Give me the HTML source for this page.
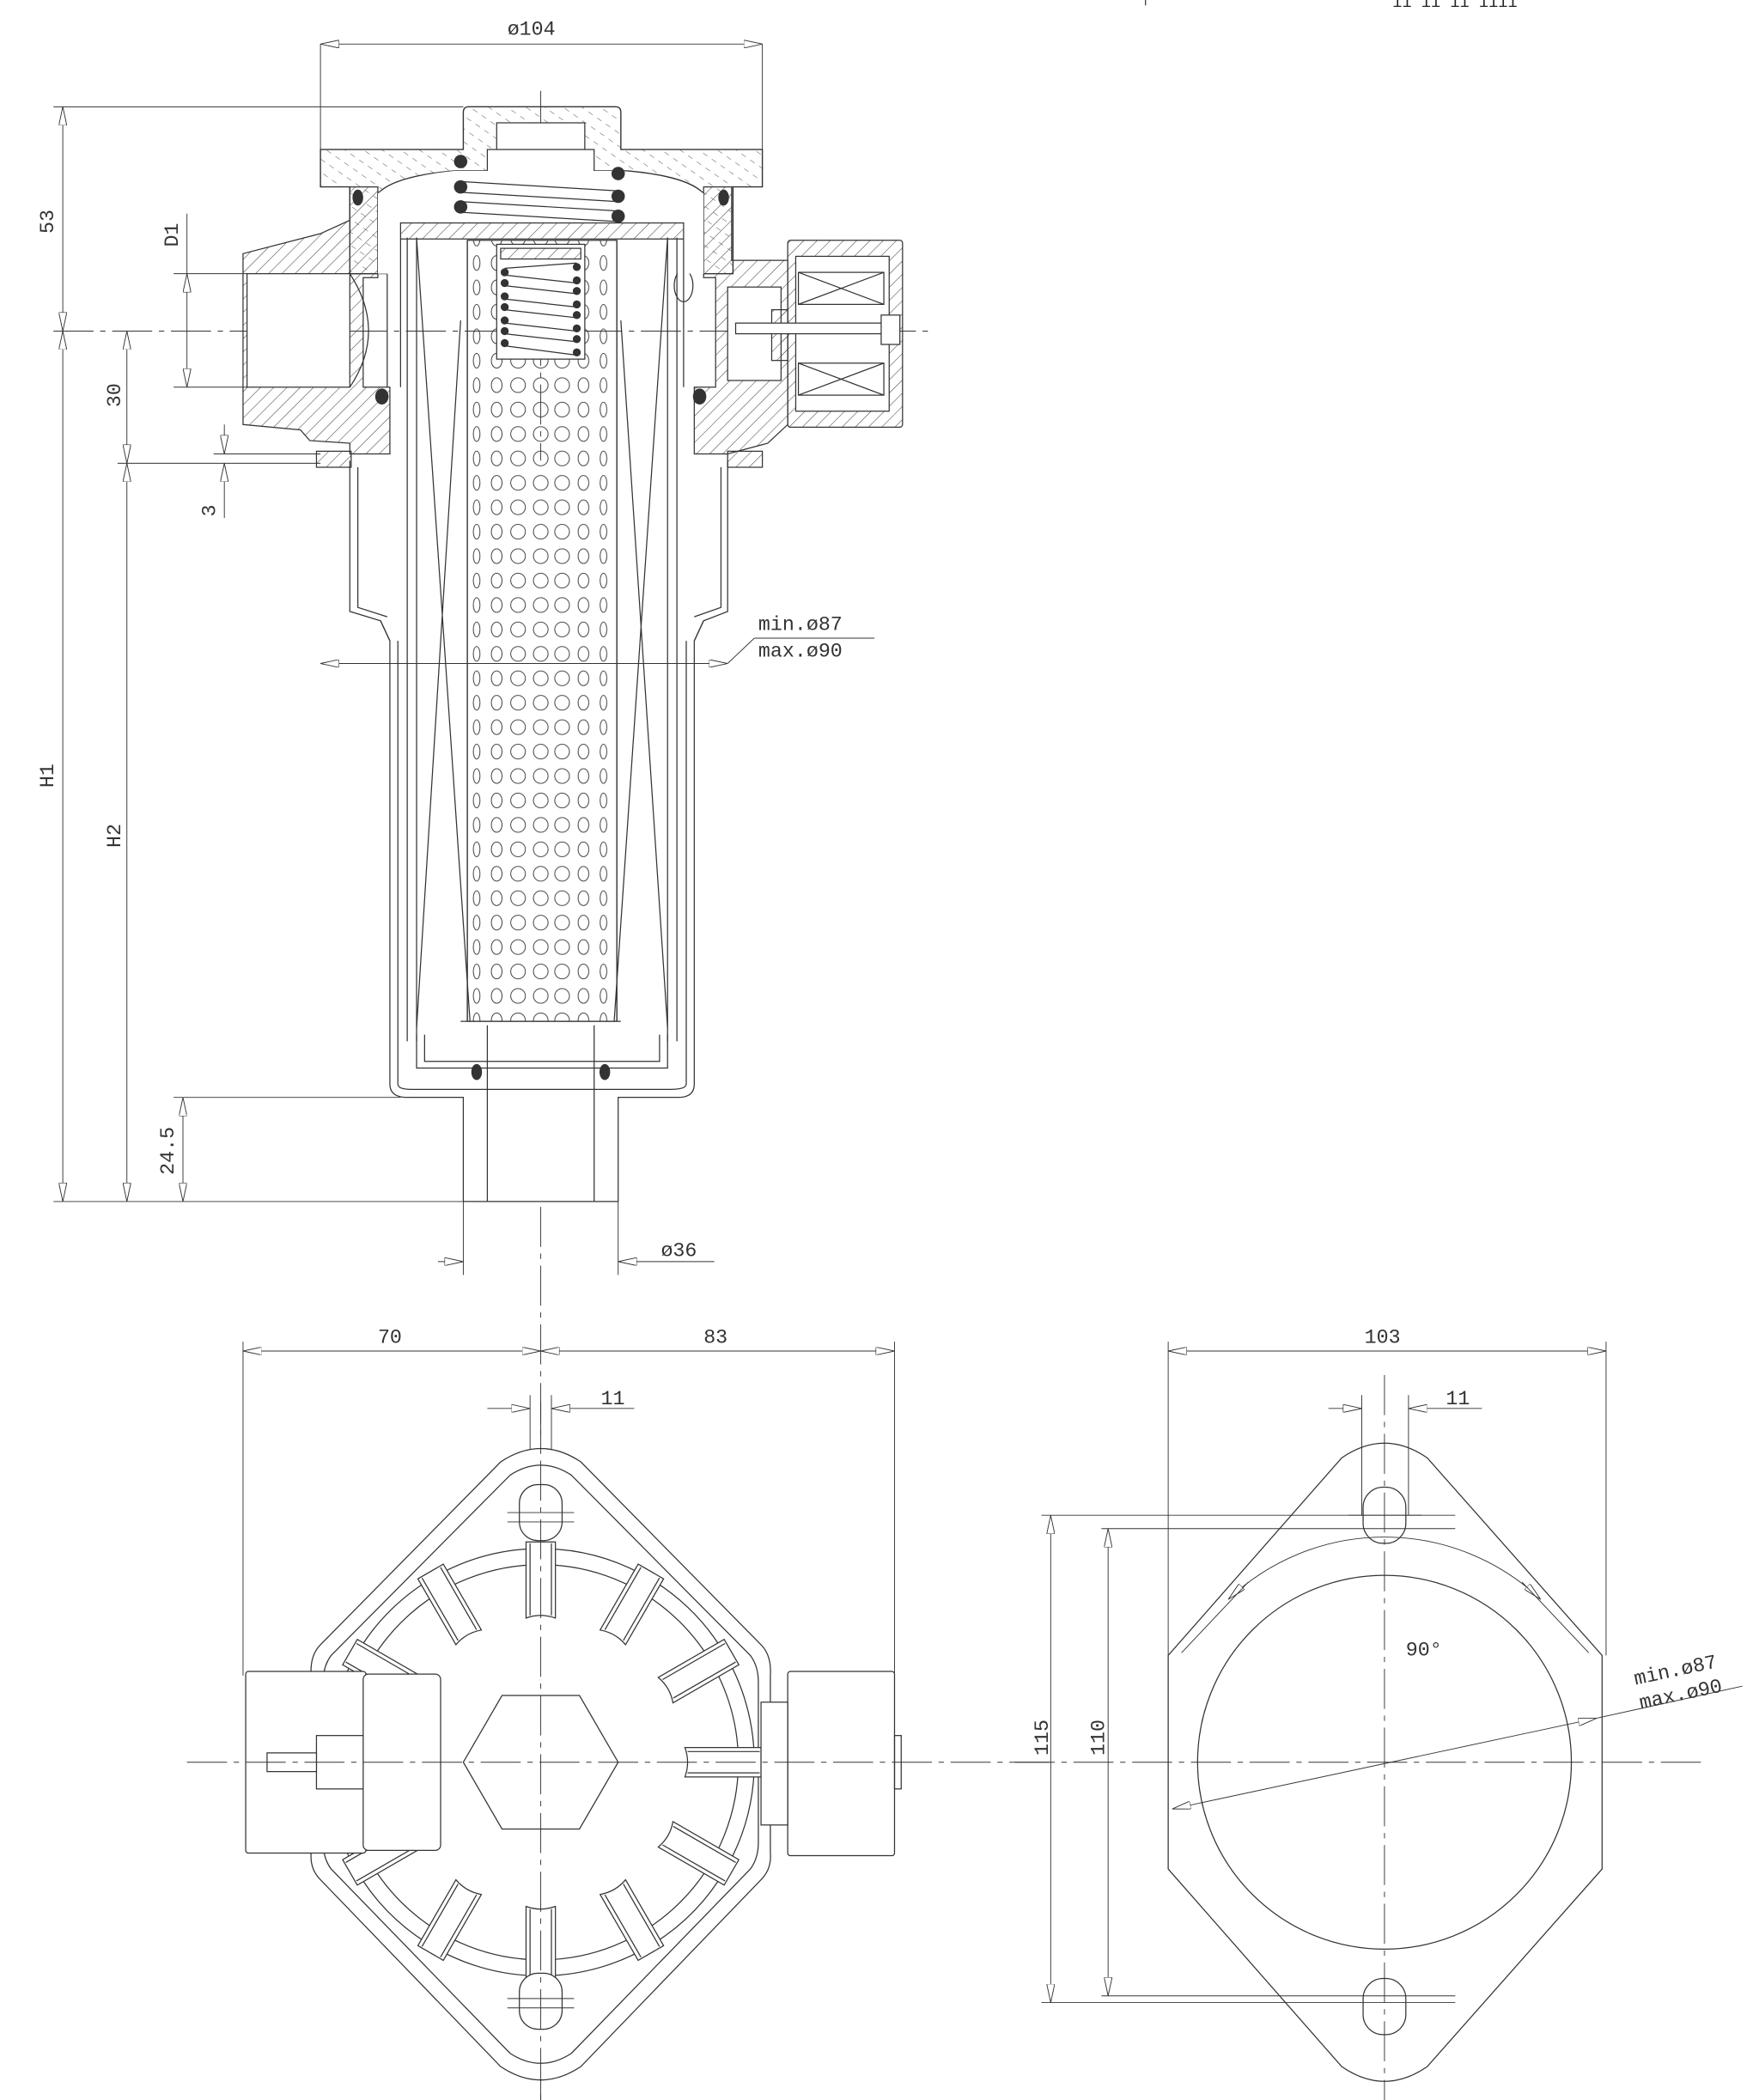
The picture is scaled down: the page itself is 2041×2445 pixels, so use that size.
<!DOCTYPE html>
<html><head><meta charset="utf-8"><style>html,body{margin:0;padding:0;background:#fff}svg{display:block}</style></head><body>
<svg width="2041" height="2445" viewBox="0 0 1313 1573" xmlns="http://www.w3.org/2000/svg" font-family="Liberation Mono, monospace" font-size="15" fill="none" stroke="#333" stroke-width="0.8">
<defs>
<pattern id="h" width="7" height="7" patternUnits="userSpaceOnUse" patternTransform="rotate(45)"><line x1="0" y1="0" x2="0" y2="7" stroke="#444" stroke-width="0.7"/></pattern>
<pattern id="hd" width="8" height="8" patternUnits="userSpaceOnUse" patternTransform="rotate(-55)"><line x1="0" y1="1" x2="0" y2="5" stroke="#444" stroke-width="0.6"/></pattern>
<pattern id="perf" x="350" y="188" width="112" height="18.3" patternUnits="userSpaceOnUse">
<g fill="none" stroke="#333" stroke-width="0.6">
<ellipse cx="7" cy="9" rx="2.5" ry="5.5"/><ellipse cx="22" cy="9" rx="4" ry="5.5"/><ellipse cx="38" cy="9" rx="5.5" ry="5.5"/><ellipse cx="55" cy="9" rx="5.5" ry="5.5"/><ellipse cx="71" cy="9" rx="5.5" ry="5.5"/><ellipse cx="87" cy="9" rx="4" ry="5.5"/><ellipse cx="102" cy="9" rx="2.5" ry="5.5"/></g></pattern>
<marker id="ar" viewBox="0 0 14 6" refX="14" refY="3" markerWidth="14" markerHeight="6" orient="auto-start-reverse" markerUnits="userSpaceOnUse"><path d="M0,0 L14,3 L0,6 Z" fill="#fff" stroke="#333" stroke-width="0.6"/></marker>
<g id="slot"><path d="M394,1155 L416,1155 L416,1212 Q405,1208 394,1212 Z" fill="#fff"/><line x1="397" y1="1156" x2="397" y2="1210"/><line x1="413" y1="1156" x2="413" y2="1210"/></g>
</defs>

<line x1="858" y1="0" x2="858" y2="4"/>
<text x="1043" y="5" fill="#222" stroke="none" font-size="12">ıı ıı ıı ıııı</text>

<line x1="405" y1="68" x2="405" y2="1573" stroke-dasharray="30,5,4,5" stroke-width="0.6"/>
<line x1="40" y1="248" x2="700" y2="248" stroke-dasharray="30,5,4,5" stroke-width="0.6"/>

<path d="M262,345 L262,458 L285,465 L292,480 L292,812 Q292,822 305,822 L347,822 L347,900 L463,900 L463,822 L508,822 Q520,822 520,812 L520,480 L527,465 L545,458 L545,345" fill="#fff"/>
<path d="M268,350 L268,455 L290,462 M298,480 L298,812 Q298,816 308,816 L502,816 Q514,816 514,812 L514,480 M540,350 L540,455 L520,462"/>
<path d="M365,900 L365,768 M445,900 L445,768"/>
<line x1="285" y1="465" x2="292" y2="480"/><line x1="527" y1="465" x2="520" y2="480"/>

<path d="M182,190 L240,175 L262,165 L262,140 L283,140 L283,208 L272,208 L272,290 L292,290 L292,340 L262,340 L262,332 L232,330 L225,322 L182,318 Z" fill="url(#h)"/>
<rect x="185" y="205" width="77" height="85" fill="#fff"/>
<path d="M262,205 L290,205 L290,290 M262,205 Q290,248 262,290"/>
<rect x="237" y="338" width="26" height="12" fill="url(#h)"/>
<path d="M527,140 L548,140 L548,195 L590,195 L590,318 L575,332 L545,340 L520,340 L520,290 L536,290 L536,208 L527,208 Z" fill="url(#h)"/>
<rect x="545" y="215" width="40" height="70" fill="#fff"/>
<rect x="545" y="338" width="26" height="12" fill="url(#h)"/>
<rect x="590" y="180" width="86" height="140" rx="2" fill="url(#h)"/>
<rect x="596" y="192" width="70" height="116" fill="#fff"/>
<rect x="598" y="204" width="64" height="24"/><path d="M598,204 L662,228 M598,228 L662,204"/>
<rect x="598" y="272" width="64" height="24"/><path d="M598,272 L662,296 M598,296 L662,272"/>
<rect x="578" y="232" width="12" height="38" fill="url(#h)"/>
<rect x="551" y="242" width="113" height="8" fill="#fff"/>
<rect x="660" y="236" width="14" height="22" fill="#fff"/>
<ellipse cx="512" cy="214" rx="7" ry="12" fill="#fff"/>

<path d="M240,112 L347,112 L347,84 Q347,80 351,80 L461,80 Q465,80 465,84 L465,112 L571,112 L571,140 L549,140 L549,205 L527,205 L527,145 Q515,132 470,128 L340,128 Q295,132 283,145 L283,205 L262,205 L262,140 L240,140 Z" fill="url(#hd)" stroke-width="0.9"/>
<rect x="372" y="92" width="66" height="20" fill="#fff"/>
<rect x="365" y="112" width="80" height="28" fill="#fff"/>
<path d="M283,145 Q300,132 340,128 L465,128 Q510,132 527,145 L527,205 L283,205 Z" fill="#fff" stroke="none"/>
<g fill="#333" stroke="none"><circle cx="345" cy="121" r="5"/><circle cx="463" cy="130" r="5"/><circle cx="345" cy="140" r="5"/><circle cx="463" cy="147" r="5"/><circle cx="345" cy="155" r="5"/><circle cx="463" cy="162" r="5"/>
<ellipse cx="268" cy="148" rx="4" ry="6"/><ellipse cx="542" cy="148" rx="4" ry="6"/><ellipse cx="286" cy="297" rx="5" ry="6"/><ellipse cx="524" cy="297" rx="5" ry="6"/><ellipse cx="357" cy="803" rx="4" ry="6"/><ellipse cx="453" cy="803" rx="4" ry="6"/></g>
<path d="M345,136 L463,143 M345,144 L463,151 M345,151 L463,158 M345,159 L463,166"/>

<rect x="300" y="167" width="212" height="12" fill="url(#h)"/>
<path d="M305,178 L305,780 M312,178 L312,780 M500,178 L500,780 M507,178 L507,780"/>
<path d="M300,179 L300,290 M512,179 L512,290"/>
<path d="M312,178 L352,765 M345,240 L312,770 M500,178 L460,765 M465,240 L500,770"/>
<path d="M312,775 L312,800 L500,800 L500,775 M318,775 L318,795 L494,795 L494,775"/>
<rect x="350" y="180" width="112" height="585" fill="url(#perf)"/>
<path d="M350,180 L350,765 M462,180 L462,765 M345,765 L465,765"/>
<rect x="372" y="183" width="66" height="86" fill="#fff"/>
<rect x="375" y="186" width="60" height="8" fill="url(#h)"/>
<g fill="#333" stroke="none"><circle cx="378" cy="204" r="3"/><circle cx="378" cy="212" r="3"/><circle cx="378" cy="222" r="3"/><circle cx="378" cy="230" r="3"/><circle cx="378" cy="240" r="3"/><circle cx="378" cy="248" r="3"/><circle cx="378" cy="257" r="3"/><circle cx="432" cy="200" r="3"/><circle cx="432" cy="210" r="3"/><circle cx="432" cy="218" r="3"/><circle cx="432" cy="228" r="3"/><circle cx="432" cy="236" r="3"/><circle cx="432" cy="246" r="3"/><circle cx="432" cy="254" r="3"/><circle cx="432" cy="264" r="3"/></g>
<path d="M378,206 L432,212 M378,214 L432,220 M378,224 L432,230 M378,232 L432,238 M378,242 L432,248 M378,250 L432,256 M378,259 L432,266 M378,201 L432,197"/>

<g stroke-width="0.6">
<line x1="240" y1="33" x2="240" y2="112"/><line x1="571" y1="33" x2="571" y2="112"/>
<line x1="240" y1="33" x2="571" y2="33" marker-start="url(#ar)" marker-end="url(#ar)"/>
<line x1="40" y1="80" x2="347" y2="80"/>
<line x1="40" y1="900" x2="347" y2="900"/>
<line x1="47" y1="80" x2="47" y2="248" marker-start="url(#ar)" marker-end="url(#ar)"/>
<line x1="47" y1="248" x2="47" y2="900" marker-start="url(#ar)" marker-end="url(#ar)"/>
<line x1="88" y1="347" x2="240" y2="347"/>
<line x1="95" y1="248" x2="95" y2="347" marker-start="url(#ar)" marker-end="url(#ar)"/>
<line x1="95" y1="347" x2="95" y2="900" marker-start="url(#ar)" marker-end="url(#ar)"/>
<line x1="130" y1="205" x2="185" y2="205"/><line x1="130" y1="290" x2="185" y2="290"/>
<line x1="140" y1="205" x2="140" y2="290" marker-start="url(#ar)" marker-end="url(#ar)"/>
<line x1="140" y1="160" x2="140" y2="205"/>
<line x1="160" y1="340" x2="240" y2="340"/>
<line x1="168" y1="318" x2="168" y2="340" marker-end="url(#ar)"/>
<line x1="168" y1="388" x2="168" y2="347" marker-end="url(#ar)"/>
<line x1="130" y1="822" x2="300" y2="822"/>
<line x1="137" y1="822" x2="137" y2="900" marker-start="url(#ar)" marker-end="url(#ar)"/>
<line x1="240" y1="497" x2="545" y2="497" marker-start="url(#ar)" marker-end="url(#ar)"/>
<line x1="545" y1="497" x2="565" y2="478"/><line x1="565" y1="478" x2="655" y2="478"/>
<line x1="347" y1="900" x2="347" y2="955"/><line x1="463" y1="900" x2="463" y2="955"/>
<line x1="328" y1="945" x2="347" y2="945" marker-end="url(#ar)"/>
<line x1="535" y1="945" x2="463" y2="945" marker-end="url(#ar)"/>
</g>
<g fill="#333" stroke="none">
<text x="380" y="26">ø104</text>
<text transform="translate(40,175) rotate(-90)">53</text>
<text transform="translate(40,590) rotate(-90)">H1</text>
<text transform="translate(90,305) rotate(-90)">30</text>
<text transform="translate(90,635) rotate(-90)">H2</text>
<text transform="translate(133,185) rotate(-90)">D1</text>
<text transform="translate(161,387) rotate(-90)">3</text>
<text transform="translate(130,880) rotate(-90)">24.5</text>
<text x="568" y="472">min.ø87</text>
<text x="568" y="492">max.ø90</text>
<text x="495" y="941">ø36</text>
</g>

<g stroke-width="0.6">
<line x1="182" y1="1005" x2="182" y2="1255"/><line x1="670" y1="1005" x2="670" y2="1255"/>
<line x1="182" y1="1012" x2="405" y2="1012" marker-start="url(#ar)" marker-end="url(#ar)"/>
<line x1="405" y1="1012" x2="670" y2="1012" marker-start="url(#ar)" marker-end="url(#ar)"/>
<line x1="365" y1="1055" x2="397" y2="1055" marker-end="url(#ar)"/>
<line x1="475" y1="1055" x2="413" y2="1055" marker-end="url(#ar)"/>
<line x1="397" y1="1045" x2="397" y2="1125"/><line x1="413" y1="1045" x2="413" y2="1125"/>
</g>
<path d="M375,1095 Q405,1075 435,1095 L570,1232 Q578,1240 577,1255 L577,1388 Q578,1400 570,1408 L435,1548 Q405,1568 375,1548 L240,1408 Q232,1400 233,1388 L233,1255 Q232,1240 240,1232 Z" fill="#fff"/>
<path d="M382,1105 Q405,1090 428,1105 L562,1240 Q568,1248 568,1260 L568,1380 Q568,1392 562,1400 L428,1538 Q405,1553 382,1538 L248,1400 Q242,1392 242,1380 L242,1260 Q242,1248 248,1240 Z"/>
<path d="M405,1160 A160,160 0 1,1 404.9,1160 Z" fill="#fff"/>
<circle cx="405" cy="1320" r="148"/>
<g>
<use href="#slot"/>
<use href="#slot" transform="rotate(30 405 1320)"/><use href="#slot" transform="rotate(60 405 1320)"/><use href="#slot" transform="rotate(90 405 1320)"/><use href="#slot" transform="rotate(120 405 1320)"/><use href="#slot" transform="rotate(150 405 1320)"/><use href="#slot" transform="rotate(180 405 1320)"/><use href="#slot" transform="rotate(210 405 1320)"/><use href="#slot" transform="rotate(240 405 1320)"/><use href="#slot" transform="rotate(270 405 1320)"/><use href="#slot" transform="rotate(300 405 1320)"/><use href="#slot" transform="rotate(330 405 1320)"/>
</g>
<polygon points="347,1320 376,1270 434,1270 463,1320 434,1370 376,1370" fill="#fff"/>
<rect x="184" y="1252" width="90" height="136" rx="2" fill="#fff"/>
<rect x="272" y="1254" width="58" height="132" rx="4" fill="#fff"/>
<rect x="237" y="1300" width="35" height="40" fill="#fff"/>
<rect x="200" y="1313" width="37" height="14" fill="#fff"/>
<rect x="590" y="1252" width="80" height="138" rx="2" fill="#fff"/>
<rect x="570" y="1275" width="20" height="92" fill="#fff"/>
<rect x="670" y="1300" width="5" height="40"/>
<rect x="389" y="1112" width="32" height="42" rx="14" fill="#fff"/>
<rect x="389" y="1478" width="32" height="42" rx="14" fill="#fff"/>
<g stroke-width="0.6"><line x1="380" y1="1133" x2="430" y2="1133"/><line x1="380" y1="1140" x2="430" y2="1140"/><line x1="380" y1="1497" x2="430" y2="1497"/><line x1="380" y1="1504" x2="430" y2="1504"/>
<line x1="405" y1="1050" x2="405" y2="1573" stroke-dasharray="30,5,4,5"/><line x1="140" y1="1320" x2="790" y2="1320" stroke-dasharray="30,5,4,5"/></g>

<path d="M1005,1092 Q1037,1070 1069,1092 L1200,1240 L1200,1400 L1069,1548 Q1037,1570 1005,1548 L875,1400 L875,1240 Z" fill="#fff"/>
<circle cx="1037" cy="1320" r="140"/>
<rect x="1021" y="1114" width="32" height="42" rx="15" fill="#fff"/>
<rect x="1021" y="1482" width="32" height="42" rx="15" fill="#fff"/>
<g stroke-width="0.6">
<line x1="875" y1="1005" x2="875" y2="1240"/><line x1="1203" y1="1005" x2="1203" y2="1240"/>
<line x1="875" y1="1012" x2="1203" y2="1012" marker-start="url(#ar)" marker-end="url(#ar)"/>
<line x1="1020" y1="1045" x2="1020" y2="1135"/><line x1="1055" y1="1045" x2="1055" y2="1135"/>
<line x1="995" y1="1055" x2="1020" y2="1055" marker-end="url(#ar)"/>
<line x1="1110" y1="1055" x2="1055" y2="1055" marker-end="url(#ar)"/>
<line x1="780" y1="1135" x2="1090" y2="1135"/><line x1="825" y1="1145" x2="1090" y2="1145"/>
<line x1="780" y1="1500" x2="1090" y2="1500"/><line x1="825" y1="1495" x2="1090" y2="1495"/>
<line x1="787" y1="1135" x2="787" y2="1500" marker-start="url(#ar)" marker-end="url(#ar)"/>
<line x1="830" y1="1145" x2="830" y2="1495" marker-start="url(#ar)" marker-end="url(#ar)"/>
<path d="M920,1198 A170,170 0 0,1 1154,1198" marker-start="url(#ar)" marker-end="url(#ar)"/>
<line x1="885" y1="1238" x2="935" y2="1185"/><line x1="1190" y1="1238" x2="1140" y2="1185"/>
<line x1="878" y1="1355" x2="1196" y2="1287" marker-start="url(#ar)" marker-end="url(#ar)"/>
<line x1="1196" y1="1287" x2="1305" y2="1263"/>
<line x1="760" y1="1320" x2="1275" y2="1320" stroke-dasharray="30,5,4,5"/>
<line x1="1037" y1="1030" x2="1037" y2="1573" stroke-dasharray="30,5,4,5"/>
<line x1="1010" y1="1135" x2="1065" y2="1135"/>
</g>
<g fill="#333" stroke="none">
<text x="283" y="1006">70</text>
<text x="527" y="1006">83</text>
<text x="450" y="1052">11</text>
<text x="1022" y="1006">103</text>
<text x="1083" y="1052">11</text>
<text transform="translate(785,1315) rotate(-90)">115</text>
<text transform="translate(827,1315) rotate(-90)">110</text>
<text x="1053" y="1240">90°</text>
<text transform="translate(1225,1262) rotate(-12)">min.ø87</text>
<text transform="translate(1229,1280) rotate(-12)">max.ø90</text>
</g>
</svg>
</body></html>
